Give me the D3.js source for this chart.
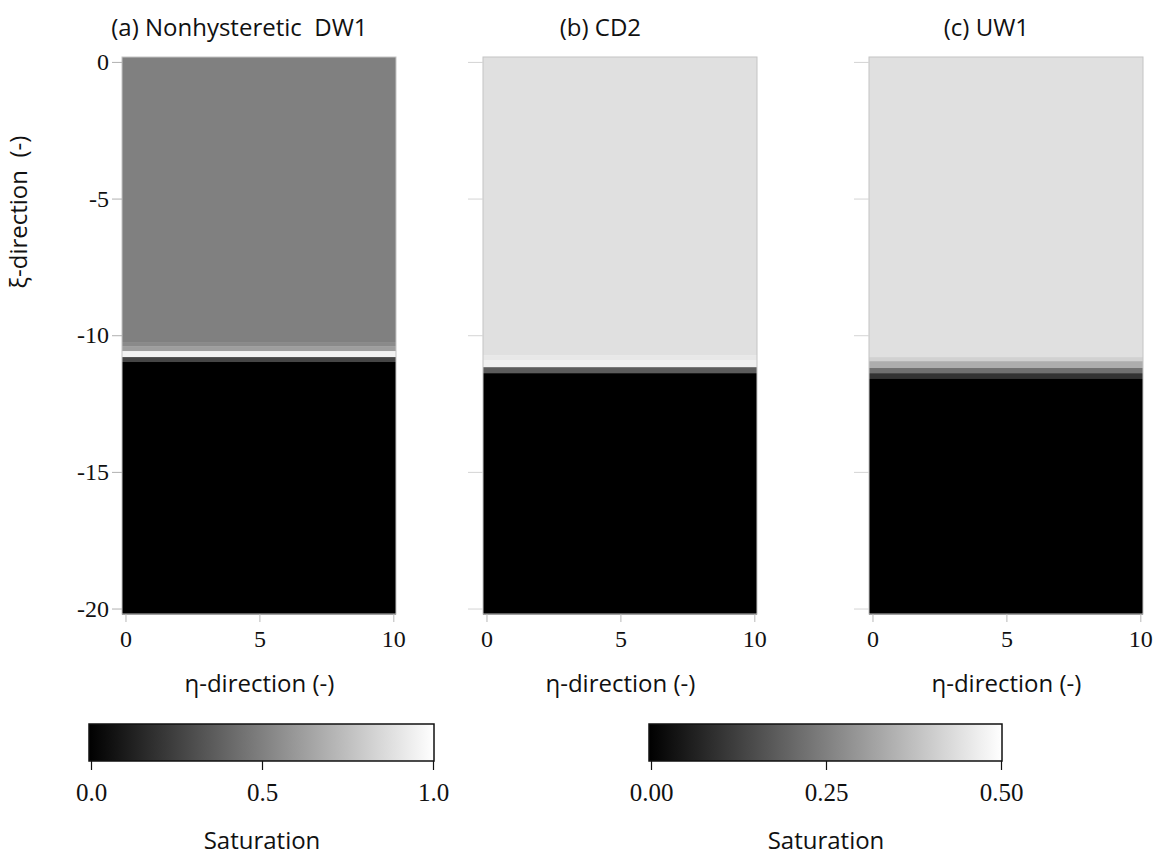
<!DOCTYPE html>
<html>
<head>
<meta charset="utf-8">
<script src="https://cdn.jsdelivr.net/npm/d3@7"></script>
<style>
  body { margin: 0; background: #fff; }
  svg { display: block; }
  .serif { font-family: "Liberation Serif", "DejaVu Serif", serif; }
  .sans { font-family: "Open Sans", "Noto Sans", sans-serif; white-space: pre; }
</style>
</head>
<body>
<div id="chart"></div>
<script>
const width = 1159
const height = 860

// panel titles
const titles = ["(a) Nonhysteretic  DW1", "(b) CD2", "(c) UW1"]
// xi-direction ticks and eta-direction ticks
const xiTicks = [0, -5, -10, -15, -20]
const etaTicks = [0, 5, 10]
// saturation profile along xi: interior band boundaries, saturation of each band (top to bottom)
const boundsA = [-10.25, -10.4, -10.58, -10.8, -10.98]
const satA = [0.50, 0.54, 0.62, 0.95, 0.27, 0.0]
const boundsB = [-10.73, -10.91, -11.17, -11.39]
const satB = [0.44, 0.455, 0.47, 0.18, 0.0]
const boundsC = [-10.8, -10.95, -11.2, -11.39, -11.6]
const satC = [0.44, 0.41, 0.34, 0.22, 0.1, 0.0]
// colour bar ranges and ticks
const barMaxA = 1.0
const barTicksA = [0.0, 0.5, 1.0]
const barMaxB = 0.5
const barTicksB = [0.0, 0.25, 0.5]

const svg = d3
  .select("#chart")
  .append("svg")
  .attr("width", width)
  .attr("height", height)

const y = d3.scaleLinear().domain([0.18, -20.2]).range([57, 614])

const panels = [
  { title: titles[0], bounds: boundsA, sat: satA, max: barMaxA, left: 122, labels: true, tickLen: 10 },
  { title: titles[1], bounds: boundsB, sat: satB, max: barMaxB, left: 483, labels: false, tickLen: 15 },
  { title: titles[2], bounds: boundsC, sat: satC, max: barMaxB, left: 869, labels: false, tickLen: 15 }
]

panels.forEach(function (p) {
  const x = d3.scaleLinear().domain([-0.13, 10.1]).range([p.left, p.left + 274])
  const color = d3.scaleLinear().domain([0, p.max]).range(["#000", "#fff"]).clamp(true)
  const g = svg.append("g")

  // bands of constant saturation
  const edges = [y.domain()[0]].concat(p.bounds, [y.domain()[1]])
  const bands = p.sat.map(function (s, i) {
    return { top: edges[i], bottom: edges[i + 1], s: s }
  })
  g.selectAll("rect.band")
    .data(bands)
    .enter()
    .append("rect")
    .attr("class", "band")
    .attr("x", x.range()[0])
    .attr("width", x.range()[1] - x.range()[0])
    .attr("y", function (d) { return y(d.top) })
    .attr("height", function (d) { return y(d.bottom) - y(d.top) + 0.5 })
    .attr("fill", function (d) { return color(d.s) })

  // frame
  g.append("rect")
    .attr("x", x.range()[0])
    .attr("y", y.range()[0])
    .attr("width", x.range()[1] - x.range()[0])
    .attr("height", y.range()[1] - y.range()[0])
    .attr("fill", "none")
    .attr("stroke", "#c4c4c4")
    .attr("stroke-width", 1)

  // y axis (labels only on the first panel)
  const yAxis = d3.axisLeft(y).tickValues(xiTicks).tickSize(p.tickLen).tickPadding(3)
    .tickFormat(function (d) {
      if (!p.labels) return ""
      return d === 0 ? "0" : "-" + Math.abs(d)
    })
  const ya = g.append("g")
    .attr("transform", "translate(" + x.range()[0] + ",0)")
    .call(yAxis)
  ya.select(".domain").remove()
  ya.selectAll("line").attr("stroke", p.labels ? "#b0b0b0" : "#d4d4d4")
  ya.selectAll("text")
    .attr("class", "serif")
    .style("font-size", "24px")
    .attr("fill", "#111")

  // x axis
  const xAxis = d3.axisBottom(x).tickValues(etaTicks).tickSize(8).tickPadding(8)
  const xa = g.append("g")
    .attr("transform", "translate(0," + y.range()[1] + ")")
    .call(xAxis)
  xa.select(".domain").remove()
  xa.selectAll("line").attr("stroke", "#b8b8b8")
  xa.selectAll("text")
    .attr("class", "serif")
    .style("font-size", "24px")
    .attr("fill", "#111")

  // x axis title
  g.append("text")
    .attr("class", "sans")
    .attr("x", (x(0) + x(10)) / 2)
    .attr("y", 692)
    .attr("text-anchor", "middle")
    .style("font-size", "24px")
    .attr("fill", "#111")
    .text("\u03b7-direction (-)")

  // panel title
  g.append("text")
    .attr("class", "sans")
    .attr("x", (x(0) + x(10)) / 2 - 20)
    .attr("y", 36)
    .attr("text-anchor", "middle")
    .style("font-size", "24px")
    .attr("fill", "#111")
    .text(p.title)
})

// y axis title
svg.append("text")
  .attr("class", "sans")
  .attr("transform", "translate(27,212) rotate(-90)")
  .attr("text-anchor", "middle")
  .style("font-size", "24px")
  .attr("fill", "#111")
  .text("\u03be-direction  (-)")

// colour bars
const defs = svg.append("defs")
const grad = defs.append("linearGradient").attr("id", "grey")
grad.append("stop").attr("offset", "0%").attr("stop-color", "#000")
grad.append("stop").attr("offset", "100%").attr("stop-color", "#fff")

const bars = [
  { max: barMaxA, ticks: barTicksA, fmt: d3.format(".1f"), range: [91, 433] },
  { max: barMaxB, ticks: barTicksB, fmt: d3.format(".2f"), range: [651, 1001] }
]

bars.forEach(function (b) {
  const s = d3.scaleLinear().domain([0, b.max]).range(b.range)
  const top = 724
  const bottom = 761
  const g = svg.append("g")
  g.append("rect")
    .attr("x", s.range()[0] - 2)
    .attr("y", top)
    .attr("width", s.range()[1] - s.range()[0] + 3)
    .attr("height", bottom - top)
    .attr("fill", "url(#grey)")
    .attr("stroke", "#111")
    .attr("stroke-width", 1.5)

  const axis = d3.axisBottom(s).tickValues(b.ticks).tickSize(9).tickPadding(13).tickFormat(b.fmt)
  const a = g.append("g")
    .attr("transform", "translate(0," + bottom + ")")
    .call(axis)
  a.select(".domain").remove()
  a.selectAll("line").attr("stroke", "#111").attr("stroke-width", 1.2)
  a.selectAll("text")
    .attr("class", "serif")
    .style("font-size", "25px")
    .attr("fill", "#111")

  g.append("text")
    .attr("class", "sans")
    .attr("x", s(b.max / 2))
    .attr("y", 849)
    .attr("text-anchor", "middle")
    .style("font-size", "24px")
    .attr("fill", "#111")
    .text("Saturation")
})
</script>
</body>
</html>
